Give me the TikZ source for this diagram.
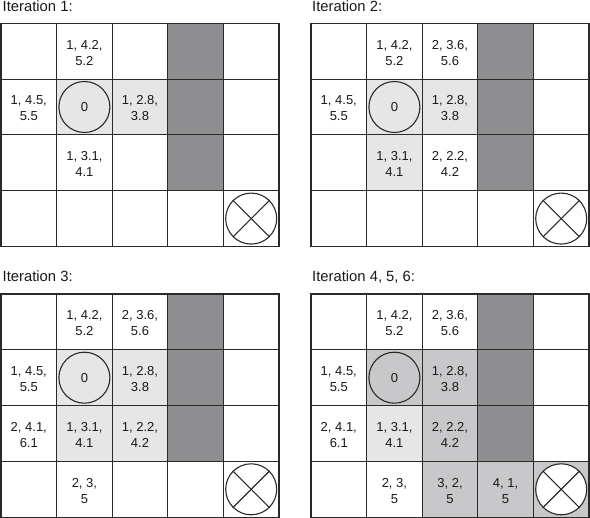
\documentclass[tikz,border=0pt]{standalone}
\usepackage{fontspec}
\setmainfont{Liberation Sans}
\definecolor{lineC}{HTML}{2A2A2A}
\definecolor{lightC}{HTML}{E6E6E6}
\definecolor{midC}{HTML}{C8C8CA}
\definecolor{darkC}{HTML}{8E8E90}
\def\cw{55.6}
\def\ch{55.8}
\tikzset{
  cellbox/.style={minimum width=55.6pt, minimum height=55.8pt, inner sep=0pt, outer sep=0pt},
  gline/.style={draw=lineC, line width=1.1pt},
  celltext/.style={align=center, inner sep=0pt, yshift=-1.5pt, font=\fontsize{13}{16}\selectfont, text=black!90},
  title/.style={anchor=base west, inner sep=0pt, font=\fontsize{14.8}{16}\selectfont, text=black!90},
  startc/.style={circle, gline, minimum size=51pt, inner sep=0pt, font=\fontsize{13}{16}\selectfont, text=black!90},
  goalc/.style={circle, gline, fill=white, minimum size=51pt, inner sep=0pt},
}
\newcommand{\mkgrid}[3]{%
  \foreach \r in {0,...,3}{\foreach \c in {0,...,4}{%
    \node[cellbox] (#1-\r-\c) at ({#2+(\c+0.5)*\cw},{#3+(\r+0.5)*\ch}) {};
  }}}
\newcommand{\gridlines}[1]{%
  \foreach \r in {0,...,3}{\foreach \c in {0,...,4}{%
    \draw[gline] (#1-\r-\c.north west) rectangle (#1-\r-\c.south east);
  }}}
\newcommand{\fillcell}[2]{\fill[#2] (#1.north west) rectangle (#1.south east);}
\newcommand{\darkcol}[1]{\fill[darkC] (#1-0-3.north west) rectangle (#1-2-3.south east);}
\newcommand{\startgoal}[1]{%
  \node[startc] (#1-s) at (#1-1-1) {0};
  \node[goalc] (#1-g) at (#1-3-4) {};
  \draw[gline] (#1-g.north west) -- (#1-g.south east);
  \draw[gline] (#1-g.north east) -- (#1-g.south west);}
\begin{document}
\begin{tikzpicture}[x=1pt, y=-1pt]
\useasboundingbox (0,0) rectangle (590,518);
% ---------- Iteration 1 ----------
\node[title] (t1) at (2.5,12) {Iteration 1:};
\mkgrid{a}{1}{23.3}
\fillcell{a-1-1}{lightC}
\fillcell{a-1-2}{lightC}
\darkcol{a}
\gridlines{a}
\startgoal{a}
\node[celltext] (a-x01) at (a-0-1) {1, 4.2,\\5.2};
\node[celltext] (a-x10) at (a-1-0) {1, 4.5,\\5.5};
\node[celltext] (a-x12) at (a-1-2) {1, 2.8,\\3.8};
\node[celltext] (a-x21) at (a-2-1) {1, 3.1,\\4.1};
% ---------- Iteration 2 ----------
\node[title] (t2) at (312,12) {Iteration 2:};
\mkgrid{b}{311}{23.3}
\fillcell{b-1-1}{lightC}
\fillcell{b-1-2}{lightC}
\fillcell{b-2-1}{lightC}
\darkcol{b}
\gridlines{b}
\startgoal{b}
\node[celltext] (b-x01) at (b-0-1) {1, 4.2,\\5.2};
\node[celltext] (b-x02) at (b-0-2) {2, 3.6,\\5.6};
\node[celltext] (b-x10) at (b-1-0) {1, 4.5,\\5.5};
\node[celltext] (b-x12) at (b-1-2) {1, 2.8,\\3.8};
\node[celltext] (b-x21) at (b-2-1) {1, 3.1,\\4.1};
\node[celltext] (b-x22) at (b-2-2) {2, 2.2,\\4.2};
% ---------- Iteration 3 ----------
\node[title] (t3) at (2.5,281.5) {Iteration 3:};
\mkgrid{c}{1}{294}
\fillcell{c-1-1}{lightC}
\fillcell{c-1-2}{lightC}
\fillcell{c-2-1}{lightC}
\fillcell{c-2-2}{lightC}
\darkcol{c}
\gridlines{c}
\startgoal{c}
\node[celltext] (c-x01) at (c-0-1) {1, 4.2,\\5.2};
\node[celltext] (c-x02) at (c-0-2) {2, 3.6,\\5.6};
\node[celltext] (c-x10) at (c-1-0) {1, 4.5,\\5.5};
\node[celltext] (c-x12) at (c-1-2) {1, 2.8,\\3.8};
\node[celltext] (c-x20) at (c-2-0) {2, 4.1,\\6.1};
\node[celltext] (c-x21) at (c-2-1) {1, 3.1,\\4.1};
\node[celltext] (c-x22) at (c-2-2) {1, 2.2,\\4.2};
\node[celltext] (c-x31) at (c-3-1) {2, 3,\\5};
% ---------- Iteration 4, 5, 6 ----------
\node[title] (t4) at (312,281.5) {Iteration 4, 5, 6:};
\mkgrid{d}{311}{294}
\fillcell{d-1-1}{midC}
\fillcell{d-1-2}{midC}
\fillcell{d-2-1}{lightC}
\fillcell{d-2-2}{midC}
\fillcell{d-3-2}{midC}
\fillcell{d-3-3}{midC}
\fillcell{d-3-4}{midC}
\darkcol{d}
\gridlines{d}
\startgoal{d}
\node[celltext] (d-x01) at (d-0-1) {1, 4.2,\\5.2};
\node[celltext] (d-x02) at (d-0-2) {2, 3.6,\\5.6};
\node[celltext] (d-x10) at (d-1-0) {1, 4.5,\\5.5};
\node[celltext] (d-x12) at (d-1-2) {1, 2.8,\\3.8};
\node[celltext] (d-x20) at (d-2-0) {2, 4.1,\\6.1};
\node[celltext] (d-x21) at (d-2-1) {1, 3.1,\\4.1};
\node[celltext] (d-x22) at (d-2-2) {2, 2.2,\\4.2};
\node[celltext] (d-x31) at (d-3-1) {2, 3,\\5};
\node[celltext] (d-x32) at (d-3-2) {3, 2,\\5};
\node[celltext] (d-x33) at (d-3-3) {4, 1,\\5};
\end{tikzpicture}
\end{document}
